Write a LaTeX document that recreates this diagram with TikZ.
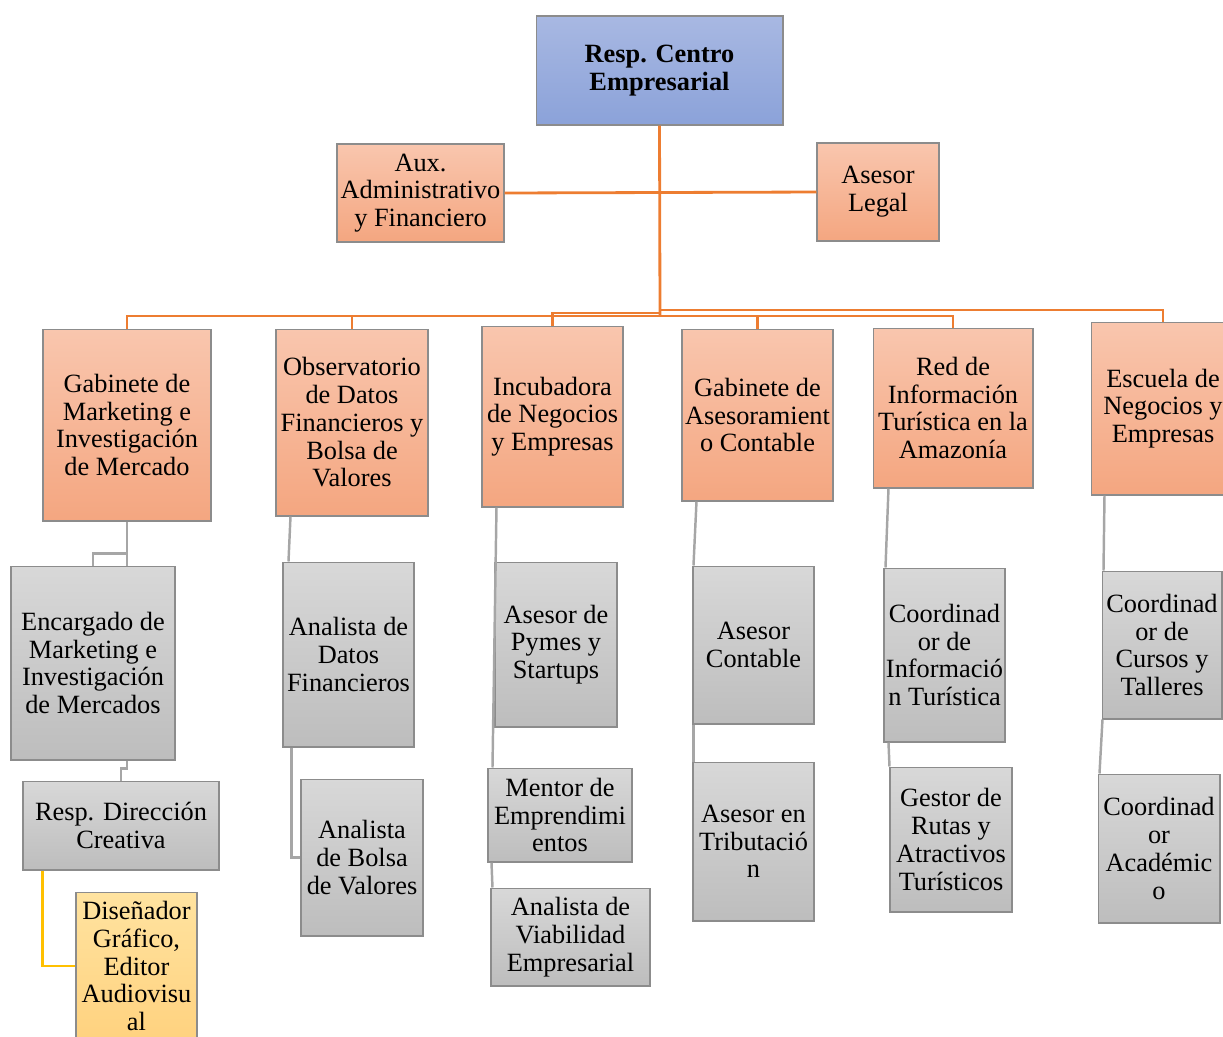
\documentclass[tikz,border=0pt]{standalone}
\usepackage{fontspec}
\setmainfont{Liberation Serif}
\usetikzlibrary{calc}
\definecolor{lineorange}{HTML}{ED7D31}
\definecolor{linegray}{HTML}{A6A6A6}
\definecolor{lineyellow}{HTML}{FFC000}
\definecolor{boxedge}{HTML}{8C8C8C}
\definecolor{headtop}{RGB}{168,184,226}
\definecolor{headbot}{RGB}{139,162,217}
\definecolor{saltop}{RGB}{249,198,174}
\definecolor{salbot}{RGB}{244,166,128}
\definecolor{graytop}{RGB}{216,216,216}
\definecolor{graybot}{RGB}{189,189,189}
\definecolor{yeltop}{RGB}{255,227,160}
\definecolor{yelbot}{RGB}{255,210,127}

\begin{document}
\begin{tikzpicture}[x=0.02cm, y=-0.02cm,
    cell/.style={draw=boxedge, line width=0.6pt, align=center, inner sep=1pt,
        font=\fontsize{15}{15.8}\selectfont},
    headbox/.style={cell, top color=headtop, bottom color=headbot},
    salbox/.style={cell, top color=saltop, bottom color=salbot},
    graybox/.style={cell, top color=graytop, bottom color=graybot},
    yelbox/.style={cell, top color=yeltop, bottom color=yelbot},
    mainline/.style={lineorange, line width=1.6pt},
    subline/.style={linegray, line width=1.4pt},
    yelline/.style={lineyellow, line width=1.4pt}]
    \useasboundingbox (0,0) rectangle (1223,1036);
    \clip (0,0) rectangle (1223,1036);

    % Top
    \node[headbox, minimum width=4.94cm, minimum height=2.18cm] (root) at (659.5,70.5) {\textbf{Resp. Centro}\\\textbf{Empresarial}};
    \node[salbox, minimum width=3.34cm, minimum height=1.96cm] (aux) at (420.5,193) {Aux.\\Administrativo\\y Financiero};
    \node[salbox, minimum width=2.44cm, minimum height=1.96cm] (leg) at (878,192) {Asesor\\Legal};

    % Second level
    \node[salbox, minimum width=3.36cm, minimum height=3.84cm] (gmi) at (127,425) {Gabinete de\\Marketing e\\Investigación\\de Mercado};
    \node[salbox, minimum width=3.04cm, minimum height=3.74cm] (obs) at (352,422.5) {Observatorio\\de Datos\\Financieros y\\Bolsa de\\Valores};
    \node[salbox, minimum width=2.82cm, minimum height=3.62cm] (inc) at (552.5,416.5) {Incubadora\\de Negocios\\y Empresas};
    \node[salbox, minimum width=3.02cm, minimum height=3.44cm] (gac) at (757.5,415) {Gabinete de\\Asesoramient\\o Contable};
    \node[salbox, minimum width=3.2cm, minimum height=3.2cm] (rit) at (953,408) {Red de\\Información\\Turística en la\\Amazonía};
    \node[salbox, minimum width=2.88cm, minimum height=3.46cm] (esc) at (1163,408.5) {Escuela de\\Negocios y\\Empresas};

    % Third level
    \node[graybox, minimum width=3.28cm, minimum height=3.88cm] (enc) at (93,663) {Encargado de\\Marketing e\\Investigación\\de Mercados};
    \node[graybox, minimum width=3.92cm, minimum height=1.78cm] (rdc) at (121,825.5) {Resp. Dirección\\Creativa};
    \node[yelbox, minimum width=2.42cm, minimum height=2.96cm] (dis) at (136.5,966) {Diseñador\\Gráfico,\\Editor\\Audiovisu\\al};

    \node[graybox, minimum width=2.62cm, minimum height=3.7cm] (adf) at (348.5,654.5) {Analista de\\Datos\\Financieros};
    \node[graybox, minimum width=2.44cm, minimum height=3.14cm] (abv) at (362,857.5) {Analista\\de Bolsa\\de Valores};

    \node[graybox, minimum width=2.44cm, minimum height=3.3cm] (apy) at (556,644.5) {Asesor de\\Pymes y\\Startups};
    \node[graybox, minimum width=2.88cm, minimum height=1.88cm] (men) at (560,815) {Mentor de\\Emprendimi\\entos};
    \node[graybox, minimum width=3.18cm, minimum height=1.96cm] (avi) at (570.5,937) {Analista de\\Viabilidad\\Empresarial};

    \node[graybox, minimum width=2.42cm, minimum height=3.16cm] (aco) at (753.5,645) {Asesor\\Contable};
    \node[graybox, minimum width=2.42cm, minimum height=3.18cm] (atr) at (753.5,841.5) {Asesor en\\Tributació\\n};

    \node[graybox, minimum width=2.42cm, minimum height=3.48cm] (cit) at (944.5,655) {Coordinad\\or de\\Informació\\n Turística};
    \node[graybox, minimum width=2.44cm, minimum height=2.9cm] (grt) at (951,839.5) {Gestor de\\Rutas y\\Atractivos\\Turísticos};

    \node[graybox, minimum width=2.4cm, minimum height=2.96cm] (ccc) at (1162,645) {Coordinad\\or de\\Cursos y\\Talleres};
    \node[graybox, minimum width=2.44cm, minimum height=2.98cm] (cac) at (1159,848.5) {Coordinad\\or\\Académic\\o};

    % Orange connectors
    \coordinate (jL) at (660,316);
    \coordinate (jI) at (660,313);
    \coordinate (jE) at (660,310);
    \draw[mainline] (root.south) -- (jL);
    \draw[mainline] (aux.east) -- (leg.west);
    \draw[mainline] (jL) -| (gmi.north);
    \draw[mainline] (jL) -| (obs.north);
    \draw[mainline] (jI) -| (inc.north);
    \draw[mainline] (jL) -| (gac.north);
    \draw[mainline] (jL) -| (rit.north);
    \draw[mainline] (jE) -| (esc.north);

    % Gray connectors
    \draw[subline] (gmi.south) -- (gmi.south |- enc.north);
    \draw[subline] ($(gmi.south)+(0,32)$) -| (enc.north);
    \draw[subline] (enc.south -| gmi.south) -- ++(0,8) -| (rdc.north);
    \draw[subline] ($(obs.south west)+(15,0)$) -- ($(adf.north west)+(6,0)$);
    \draw[subline] ($(adf.south west)+(9,0)$) |- (abv.west);
    \draw[subline] ($(inc.south west)+(15,0)$) -- ($(men.north west)+(5,0)$);
    \draw[subline] ($(men.south west)+(4,0)$) -- ($(avi.north west)+(2,0)$);
    \draw[subline] ($(gac.south west)+(15,0)$) -- ($(aco.north west)+(1,0)$);
    \draw[subline] ($(aco.south west)+(1,0)$) -- ($(atr.north west)+(1,0)$);
    \draw[subline] ($(rit.south west)+(16,0)$) -- ($(cit.north west)+(2,0)$);
    \draw[subline] ($(cit.south west)+(5,0)$) -- ($(grt.north west)+(0,0)$);
    \draw[subline] ($(esc.south west)+(14,0)$) -- ($(ccc.north west)+(2,0)$);
    \draw[subline] ($(ccc.south west)+(1,0)$) -- ($(cac.north west)+(2,0)$);

    % Yellow connector
    \draw[yelline] ($(rdc.south west)+(20,0)$) |- (dis.west);
\end{tikzpicture}
\end{document}
